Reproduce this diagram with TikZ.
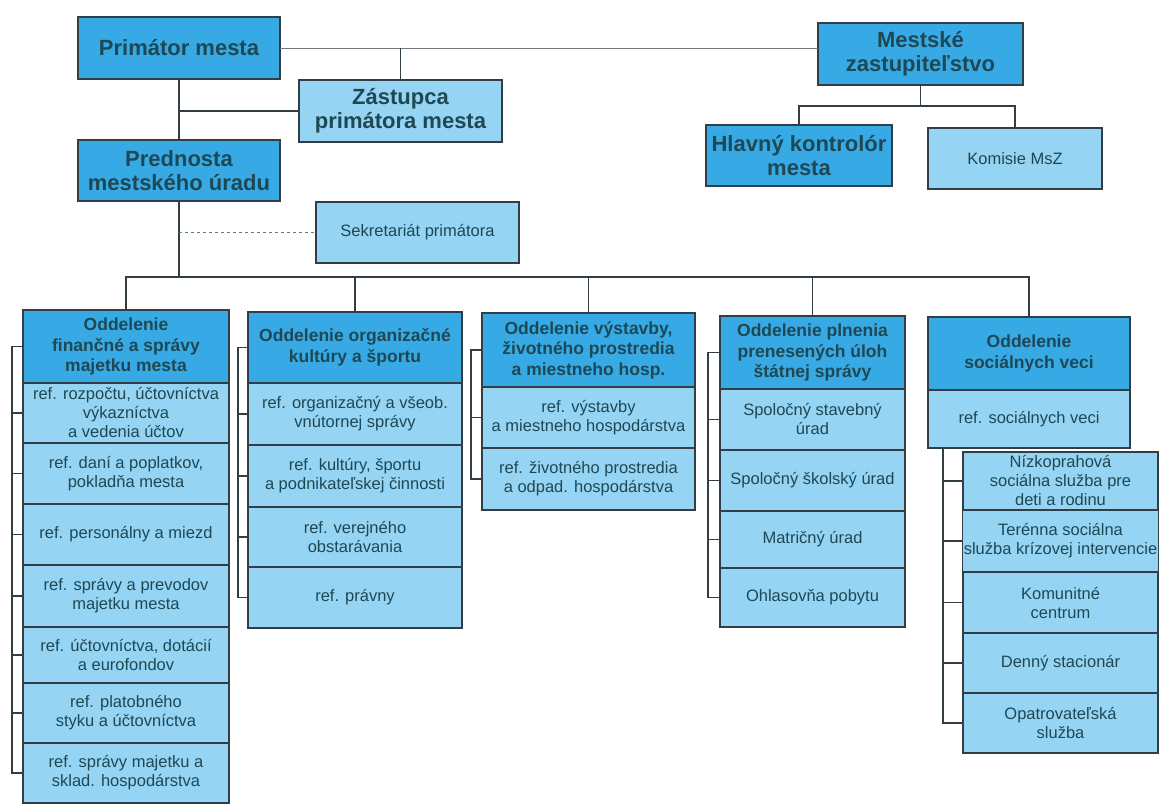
\documentclass[tikz,border=0pt]{standalone}
\usepackage{fontspec}
\setmainfont{Liberation Sans}
\usetikzlibrary{positioning}
\definecolor{darkblue}{RGB}{55,170,230}
\definecolor{paleblue}{RGB}{150,212,243}
\definecolor{inkblue}{RGB}{30,72,84}
\definecolor{framec}{RGB}{50,62,70}

\begin{document}
\begin{tikzpicture}[x=1pt, y=-1pt,
    box/.style={draw=framec, line width=1.3pt, outer sep=0pt, inner sep=1pt, align=center, text=inkblue},
    topbox/.style={box, fill=darkblue, font=\fontsize{22}{24}\selectfont\bfseries},
    sidebox/.style={box, fill=paleblue, font=\fontsize{22}{24}\selectfont\bfseries},
    thinbox/.style={box, fill=paleblue, font=\fontsize{16.5}{19}\selectfont},
    headbox/.style={box, fill=darkblue, font=\fontsize{17.5}{20.5}\selectfont\bfseries},
    rowbox/.style={box, fill=paleblue, font=\fontsize{16.5}{19}\selectfont},
    link/.style={draw=framec, line width=1.3pt}]
    \useasboundingbox (0,0) rectangle (1159,808);

    % vedenie mesta
    \node[topbox, minimum width=202, minimum height=62] (prim) at (179,48) {Primátor mesta};
    \node[sidebox, minimum width=203, minimum height=62] (zast) at (400.5,111) {Zástupca\\primátora mesta};
    \node[topbox, minimum width=202, minimum height=61] (pred) at (179,170.5) {Prednosta\\mestského úradu};
    \node[thinbox, minimum width=203, minimum height=61] (sekr) at (417.5,232.5) {Sekretariát primátora};
    \node[topbox, minimum width=205, minimum height=62] (msz) at (920.5,54) {Mestské\\zastupiteľstvo};
    \node[topbox, minimum width=186, minimum height=61] (hk) at (799,155.5) {Hlavný kontrolór\\mesta};
    \node[thinbox, minimum width=174, minimum height=61] (kom) at (1015,158.5) {Komisie MsZ};

    % oddelenie 1
    \node[headbox, minimum width=206, minimum height=73] (od1) at (126,346.5) {Oddelenie\\finančné a správy\\majetku mesta};
    \node[rowbox, minimum width=206, minimum height=60, below=0pt of od1] (od1a) {ref. rozpočtu, účtovníctva\\výkazníctva\\a vedenia účtov};
    \node[rowbox, minimum width=206, minimum height=61, below=0pt of od1a] (od1b) {ref. daní a poplatkov,\\pokladňa mesta};
    \node[rowbox, minimum width=206, minimum height=61, below=0pt of od1b] (od1c) {ref. personálny a miezd};
    \node[rowbox, minimum width=206, minimum height=62, below=0pt of od1c] (od1d) {ref. správy a prevodov\\majetku mesta};
    \node[rowbox, minimum width=206, minimum height=56, below=0pt of od1d] (od1e) {ref. účtovníctva, dotácií\\a eurofondov};
    \node[rowbox, minimum width=206, minimum height=60, below=0pt of od1e] (od1f) {ref. platobného\\styku a účtovníctva};
    \node[rowbox, minimum width=206, minimum height=60, below=0pt of od1f] (od1g) {ref. správy majetku a\\sklad. hospodárstva};

    % oddelenie 2
    \node[headbox, minimum width=214, minimum height=71] (od2) at (355,347.5) {Oddelenie organizačné\\kultúry a športu};
    \node[rowbox, minimum width=214, minimum height=62, below=0pt of od2] (od2a) {ref. organizačný a všeob.\\vnútornej správy};
    \node[rowbox, minimum width=214, minimum height=62, below=0pt of od2a] (od2b) {ref. kultúry, športu\\a podnikateľskej činnosti};
    \node[rowbox, minimum width=214, minimum height=60, below=0pt of od2b] (od2c) {ref. verejného\\obstarávania};
    \node[rowbox, minimum width=214, minimum height=61, below=0pt of od2c] (od2d) {ref. právny};

    % oddelenie 3
    \node[headbox, minimum width=213, minimum height=74] (od3) at (588.5,350) {Oddelenie výstavby,\\životného prostredia\\a miestneho hosp.};
    \node[rowbox, minimum width=213, minimum height=61, below=0pt of od3] (od3a) {ref. výstavby\\a miestneho hospodárstva};
    \node[rowbox, minimum width=213, minimum height=62, below=0pt of od3a] (od3b) {ref. životného prostredia\\a odpad. hospodárstva};

    % oddelenie 4
    \node[headbox, minimum width=185, minimum height=73] (od4) at (812.5,352.5) {Oddelenie plnenia\\prenesených úloh\\štátnej správy};
    \node[rowbox, minimum width=185, minimum height=61, below=0pt of od4] (od4a) {Spoločný stavebný\\úrad};
    \node[rowbox, minimum width=185, minimum height=61, below=0pt of od4a] (od4b) {Spoločný školský úrad};
    \node[rowbox, minimum width=185, minimum height=57, below=0pt of od4b] (od4c) {Matričný úrad};
    \node[rowbox, minimum width=185, minimum height=59, below=0pt of od4c] (od4d) {Ohlasovňa pobytu};

    % oddelenie 5
    \node[headbox, minimum width=202, minimum height=73] (od5) at (1029,353.5) {Oddelenie\\sociálnych veci};
    \node[rowbox, minimum width=202, minimum height=58, below=0pt of od5] (od5a) {ref. sociálnych veci};
    \node[rowbox, minimum width=195, minimum height=58, anchor=north] (od5s1) at (1060.5,452) {Nízkoprahová\\sociálna služba pre\\deti a rodinu};
    \node[rowbox, minimum width=195, minimum height=62, below=0pt of od5s1] (od5s2) {Terénna sociálna\\služba krízovej intervencie};
    \node[rowbox, minimum width=195, minimum height=61, below=0pt of od5s2] (od5s3) {Komunitné\\centrum};
    \node[rowbox, minimum width=195, minimum height=60, below=0pt of od5s3] (od5s4) {Denný stacionár};
    \node[rowbox, minimum width=195, minimum height=60, below=0pt of od5s4] (od5s5) {Opatrovateľská\\služba};

    % spojnice hore
    \coordinate (bus) at (0,277);
    \draw[link, line width=0.9pt, draw=framec!70] (prim.east) -- (prim.east -| msz.west);
    \draw[link] (zast.north) -- (zast.north |- prim.east);
    \draw[link] (prim.south) -- (pred.north);
    \draw[link] (prim.south |- zast.west) -- (zast.west);
    \draw[link] (pred.south) -- (pred.south |- bus);
    \draw[link, line width=0.9pt, draw=framec!70, dashed] (pred.south |- sekr.west) -- (sekr.west);
    \draw[link] (msz.south) -- ++(0,21) coordinate (mszbus);
    \draw[link] (hk.north) |- (mszbus) -| (kom.north);

    % zbernica oddeleni
    \draw[link] (od1.north) -- (od1.north |- bus) -- (od5.north |- bus) -- (od5.north);
    \draw[link] (od2.north) -- (od2.north |- bus)
                (od3.north) -- (od3.north |- bus)
                (od4.north) -- (od4.north |- bus);

    % zatvorky po lavej strane
    \coordinate (b1) at (12,0);
    \coordinate (b2) at (238,0);
    \coordinate (b3) at (471,0);
    \coordinate (b4) at (708,0);
    \coordinate (b5) at (943,0);
    \draw[link] (od1.west) -- (od1.west -| b1) -- (od1g.west -| b1) -- (od1g.west);
    \draw[link] (od1a.west) -- (od1a.west -| b1) (od1b.west) -- (od1b.west -| b1)
                (od1c.west) -- (od1c.west -| b1) (od1d.west) -- (od1d.west -| b1)
                (od1e.west) -- (od1e.west -| b1) (od1f.west) -- (od1f.west -| b1);
    \draw[link] (od2.west) -- (od2.west -| b2) -- (od2d.west -| b2) -- (od2d.west);
    \draw[link] (od2a.west) -- (od2a.west -| b2) (od2b.west) -- (od2b.west -| b2)
                (od2c.west) -- (od2c.west -| b2);
    \draw[link] (od3.west) -- (od3.west -| b3) -- (od3b.west -| b3) -- (od3b.west);
    \draw[link] (od3a.west) -- (od3a.west -| b3);
    \draw[link] (od4.west) -- (od4.west -| b4) -- (od4d.west -| b4) -- (od4d.west);
    \draw[link] (od4a.west) -- (od4a.west -| b4) (od4b.west) -- (od4b.west -| b4)
                (od4c.west) -- (od4c.west -| b4);
    \draw[link] (od5a.south -| b5) -- (od5s5.west -| b5) -- (od5s5.west);
    \draw[link] (od5s1.west) -- (od5s1.west -| b5) (od5s2.west) -- (od5s2.west -| b5)
                (od5s3.west) -- (od5s3.west -| b5) (od5s4.west) -- (od5s4.west -| b5);
\end{tikzpicture}
\end{document}
